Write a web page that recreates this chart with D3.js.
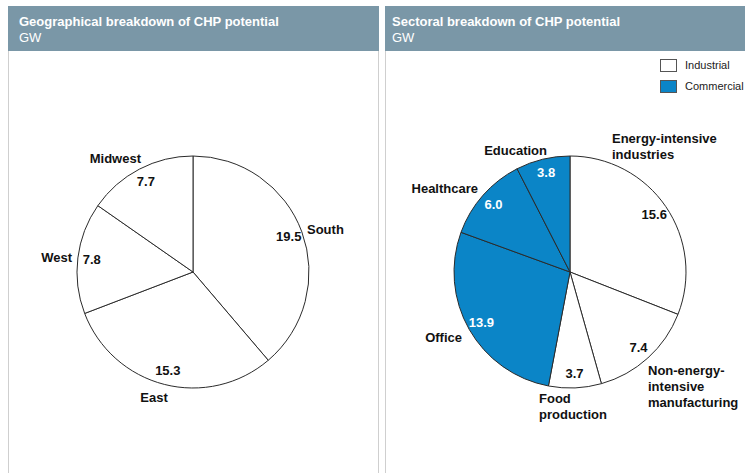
<!DOCTYPE html>
<html>
<head>
<meta charset="utf-8">
<script src="https://cdn.jsdelivr.net/npm/d3@7"></script>
<style>
  html, body { margin: 0; padding: 0; background: #fff; }
  svg { display: block; font-family: "Liberation Sans", Arial, Helvetica, sans-serif; }
</style>
</head>
<body>
<svg id="chart" width="745" height="473"></svg>
<script>
// Regional CHP potential, GW
const regions = ["South", "East", "West", "Midwest"];
const regionValues = [19.5, 15.3, 7.8, 7.7];

// Sectoral CHP potential, GW
const sectors = ["Energy-intensive industries", "Non-energy-intensive manufacturing", "Food production", "Office", "Healthcare", "Education"];
const sectorValues = [15.6, 7.4, 3.7, 13.9, 6.0, 3.8];
const sectorGroups = ["Industrial", "Industrial", "Industrial", "Commercial", "Commercial", "Commercial"];

const groupNames = ["Industrial", "Commercial"];

// Lines used for each category name
const nameLines = {
  "South": ["South"], "East": ["East"], "West": ["West"], "Midwest": ["Midwest"],
  "Energy-intensive industries": ["Energy-intensive", "industries"],
  "Non-energy-intensive manufacturing": ["Non-energy-", "intensive", "manufacturing"],
  "Food production": ["Food", "production"],
  "Office": ["Office"], "Healthcare": ["Healthcare"], "Education": ["Education"]
};

// Name label placement relative to the pie centre: [dx, dy, anchor]
const namePlacement = {
  "South": [114, -43, "start"],
  "East": [-39, 125, "middle"],
  "West": [-121, -15, "end"],
  "Midwest": [-52, -114, "end"],
  "Energy-intensive industries": [42, -134, "start"],
  "Non-energy-intensive manufacturing": [78, 98, "start"],
  "Food production": [-31, 126, "start"],
  "Office": [-108, 65, "end"],
  "Healthcare": [-92, -84, "end"],
  "Education": [-23, -122, "end"]
};

const HEADER = "#7a97a7";
const BLUE = "#0b85c7";
const STROKE = "#2b2b2b";

const svg = d3.select("#chart");
const color = d3.scaleOrdinal().domain(groupNames).range(["#ffffff", BLUE]);

function panel(x, w, textX, title) {
  svg.append("rect")
    .attr("x", x + 0.5).attr("y", 6.5).attr("width", w).attr("height", 480)
    .attr("fill", "#fff").attr("stroke", "#cfcfcf");
  svg.append("rect")
    .attr("x", x).attr("y", 6).attr("width", w + 1).attr("height", 45)
    .attr("fill", HEADER);
  svg.append("text").attr("x", textX).attr("y", 26)
    .attr("fill", "#fff").attr("font-size", 13).attr("font-weight", "bold")
    .text(title);
  svg.append("text").attr("x", textX).attr("y", 42)
    .attr("fill", "#fff").attr("font-size", 13)
    .text("GW");
}

panel(8, 370, 19, "Geographical breakdown of CHP potential");
panel(385, 380, 392, "Sectoral breakdown of CHP potential");

const R = 116;
const pie = d3.pie().sort(null).value(d => d.value);
const arc = d3.arc().innerRadius(0).outerRadius(R);
const valueArc = d3.arc().innerRadius(102).outerRadius(102);

function drawPie(cx, cy, names, values, groups) {
  const data = names.map((n, i) => ({ name: n, value: values[i], group: groups ? groups[i] : "Industrial" }));
  const g = svg.append("g").attr("transform", `translate(${cx},${cy})`);
  const arcs = pie(data);

  g.selectAll("path.slice").data(arcs).join("path")
    .attr("class", "slice")
    .attr("d", arc)
    .attr("fill", d => color(d.data.group))
    .attr("stroke", STROKE)
    .attr("stroke-width", 1)
    .attr("stroke-linejoin", "round");

  g.selectAll("text.value").data(arcs).join("text")
    .attr("class", "value")
    .attr("transform", d => `translate(${valueArc.centroid(d)})`)
    .attr("text-anchor", "middle")
    .attr("dy", "0.35em")
    .attr("font-size", 13).attr("font-weight", "bold")
    .attr("fill", d => d.data.group === "Commercial" ? "#fff" : "#111")
    .text(d => d3.format(".1f")(d.data.value));

  const names_ = g.selectAll("text.name").data(arcs).join("text")
    .attr("class", "name")
    .attr("font-size", 13).attr("font-weight", "bold").attr("fill", "#111")
    .attr("text-anchor", d => namePlacement[d.data.name][2]);
  names_.each(function (d) {
    const [dx, dy] = namePlacement[d.data.name];
    const t = d3.select(this);
    nameLines[d.data.name].forEach((line, i) => {
      t.append("tspan").attr("x", dx).attr("y", dy + i * 16).attr("dy", "0.35em").text(line);
    });
  });
}

drawPie(193, 272, regions, regionValues, null);
drawPie(570, 272, sectors, sectorValues, sectorGroups);

// Legend
const legend = svg.append("g").attr("transform", "translate(660,59)");
groupNames.forEach((gname, i) => {
  const row = legend.append("g").attr("transform", `translate(0,${i * 21})`);
  row.append("rect").attr("x", 0.5).attr("y", 0.5).attr("width", 16).attr("height", 12)
    .attr("fill", color(gname)).attr("stroke", "#555").attr("stroke-width", 1);
  row.append("text").attr("x", 25).attr("y", 6.5).attr("dy", "0.35em")
    .attr("font-size", 11).attr("fill", "#222").text(gname);
});
</script>
</body>
</html>
